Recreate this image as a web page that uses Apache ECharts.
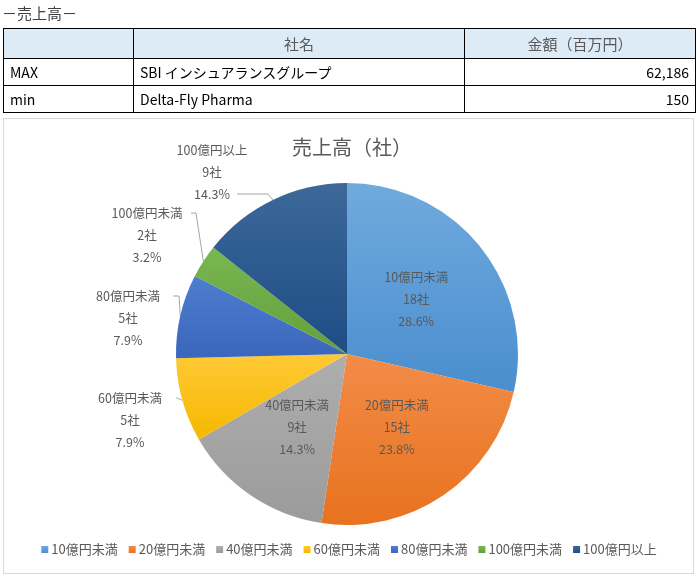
<!DOCTYPE html>
<html><head><meta charset="utf-8">
<script src="https://cdn.jsdelivr.net/npm/echarts@6/dist/echarts.min.js"></script>
<style>
body{margin:0;width:698px;height:579px;overflow:hidden;background:#fff;font-family:"Noto Sans CJK JP",sans-serif;}
#heading{position:absolute;left:2px;top:2px;font-size:15px;color:#404040;line-height:22px;}
#tbl{position:absolute;left:3px;top:28px;width:692px;border-collapse:collapse;font-size:14px;color:#000;table-layout:fixed;}
#tbl td{border:1px solid #000;padding:0 6px;white-space:nowrap;}
#tbl tr.h td{background:#DDEBF7;color:#595959;height:29px;text-align:center;font-size:15px;}
#tbl tr.r td{height:26px;}
#tbl td.num{text-align:right;}
#box{position:absolute;left:3px;top:118px;width:691px;height:456px;border:1px solid #d9d9d9;box-sizing:border-box;}
#chart{position:absolute;left:0;top:0;width:698px;height:579px;}
</style></head>
<body>
<div id="box"></div>
<div id="chart"></div>
<div id="heading">－売上高－</div>
<table id="tbl"><colgroup><col style="width:130px"><col style="width:331px"><col style="width:231px"></colgroup><tbody></tbody></table>
<script>
// ---- table data ----
const tableHeader = ['', '社名', '金額（百万円）'];
const rowLabels = ['MAX', 'min'];
const companies = ['SBI インシュアランスグループ', 'Delta-Fly Pharma'];
const amounts = ['62,186', '150'];

// ---- chart data ----
const chartTitle = '売上高（社）';
const categories = ['10億円未満', '20億円未満', '40億円未満', '60億円未満', '80億円未満', '100億円未満', '100億円以上'];
const counts = [18, 15, 9, 5, 5, 2, 9];

// build table
const tb = document.querySelector('#tbl tbody');
let html = '<tr class="h">' + tableHeader.map(h => '<td>' + h + '</td>').join('') + '</tr>';
rowLabels.forEach((r, i) => {
  html += '<tr class="r"><td>' + r + '</td><td>' + companies[i] + '</td><td class="num">' + amounts[i] + '</td></tr>';
});
tb.innerHTML = html;

const topColors = ['#70AADD', '#F28C48', '#AEAEAE', '#FFC935', '#4E7ED0', '#7AB652', '#3D6899'];
const botColors = ['#4A8ECE', '#E8721E', '#9B9B9B', '#F5B800', '#3A66BC', '#62A03A', '#1D4D85'];
const insideSet = [true, true, true, false, false, false, false];

// outside label placement (label block centre x, top y, elbow, anchor)
const OUT = {
  3: {x: 130, y: 387, elbow: [177, 398], anchor: [176, 398]},
  4: {x: 128, y: 285, elbow: [179, 296], anchor: [173, 296]},
  5: {x: 147, y: 202, elbow: [196, 213], anchor: [191, 213]},
  6: {x: 212, y: 139, elbow: [268, 194], anchor: [237, 194]}
};

const chart = echarts.init(document.getElementById('chart'), null, {renderer: 'canvas'});
const font = '"Noto Sans CJK JP", sans-serif';
chart.setOption({
  animation: false,
  title: {
    text: chartTitle, left: 347, top: 132, textAlign: 'center',
    textStyle: {fontSize: 20, fontWeight: 'normal', color: '#595959', fontFamily: font}
  },
  legend: {
    bottom: 18, left: 'center', icon: 'rect', itemWidth: 7, itemHeight: 7, itemGap: 11,
    textStyle: {fontSize: 13, color: '#595959', fontFamily: font, padding: [0, 0, 0, -2]},
    data: categories
  },
  series: [{
    type: 'pie',
    center: [347, 354],
    radius: 171,
    startAngle: 90,
    clockwise: true,
    percentPrecision: 1,
    avoidLabelOverlap: false,
    label: {
      formatter: '{b}\n{c}社\n{d}%',
      fontSize: 12.5, lineHeight: 22, color: '#595959', fontFamily: font
    },
    labelLine: {lineStyle: {color: '#A6A6A6', width: 1}},
    labelLayout: function (p) {
      const o = OUT[p.dataIndex];
      if (!o || !p.labelLinePoints) return {};
      const edge = p.labelLinePoints[0];
      return {x: o.x, y: o.y, align: 'center', verticalAlign: 'top',
              labelLinePoints: [edge, o.elbow, o.anchor]};
    },
    data: categories.map((c, i) => ({
      name: c,
      value: counts[i],
      itemStyle: {
        color: new echarts.graphic.LinearGradient(0, 0, 0, 1, [
          {offset: 0, color: topColors[i]}, {offset: 1, color: botColors[i]}
        ])
      },
      label: {position: insideSet[i] ? 'inside' : 'outside'},
      labelLine: {show: !insideSet[i], length: 10, length2: 10}
    }))
  }]
});
</script>
</body></html>
